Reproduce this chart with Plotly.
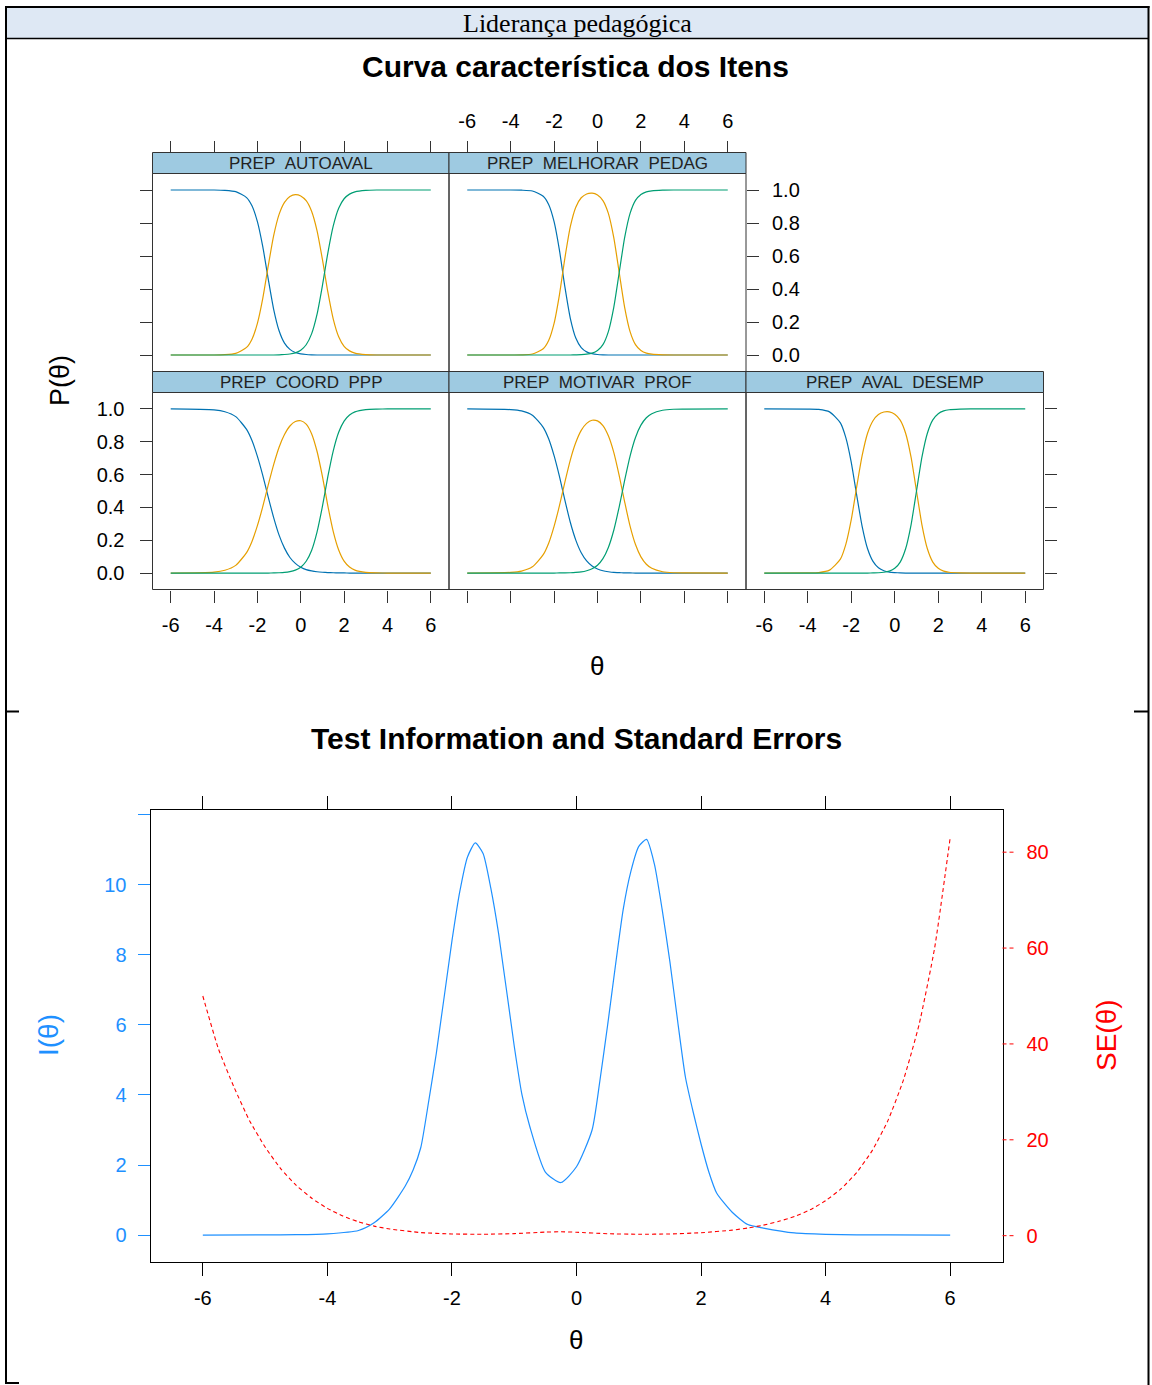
import plotly.graph_objects as go

# ---------------- data ----------------
item_names = ["PREP  AUTOAVAL", "PREP  MELHORAR  PEDAG", "PREP  COORD  PPP",
              "PREP  MOTIVAR  PROF", "PREP  AVAL  DESEMP"]

theta_icc = [-6, -4, -3.5, -3, -2.5, -2.25, -2, -1.75, -1.5, -1.25, -1, -0.75, -0.5, -0.25,
             0, 0.25, 0.5, 0.75, 1, 1.25, 1.5, 1.75, 2, 2.25, 2.5, 3, 3.5, 4, 6]

autoaval_c1 = [1, 1, .998, .990, .954, .904, .808, .655, .460, .277, .147, .072, .034, .015,
               .007, .003, .001, 0, 0, 0, 0, 0, 0, 0, 0, 0, 0, 0, 0]
autoaval_c2 = [0, 0, .002, .010, .046, .096, .192, .345, .540, .723, .852, .925, .960, .972,
               .964, .935, .871, .754, .579, .382, .218, .111, .053, .025, .011, .002, 0, 0, 0]
autoaval_c3 = [0, 0, 0, 0, 0, 0, 0, 0, 0, 0, .001, .003, .006, .013,
               .029, .062, .128, .246, .421, .618, .782, .889, .947, .975, .989, .998, 1, 1, 1]

melhorar_c1 = [1, 1, .999, .994, .962, .912, .808, .632, .411, .221, .103, .045, .019, .008,
               .003, .001, 0, 0, 0, 0, 0, 0, 0, 0, 0, 0, 0, 0, 0]
melhorar_c2 = [0, 0, .001, .006, .038, .088, .192, .368, .589, .779, .896, .953, .976, .981,
               .970, .936, .858, .711, .5, .289, .142, .063, .027, .011, .005, .001, 0, 0, 0]
melhorar_c3 = [0, 0, 0, 0, 0, 0, 0, 0, 0, 0, .001, .002, .005, .011,
               .027, .063, .142, .289, .5, .711, .858, .937, .973, .989, .995, .999, 1, 1, 1]

coord_c1 = [1, .994, .983, .953, .875, .807, .711, .594, .463, .338, .231, .152, .095, .059,
            .036, .021, .013, .008, .005, .003, .002, .001, .001, 0, 0, 0, 0, 0, 0]
coord_c2 = [0, .006, .017, .047, .125, .193, .289, .406, .537, .661, .767, .844, .896, .923,
            .928, .907, .849, .742, .589, .410, .253, .141, .073, .037, .018, .004, .001, 0, 0]
coord_c3 = [0, 0, 0, 0, 0, 0, 0, 0, 0, .001, .002, .004, .009, .018,
            .036, .072, .138, .250, .406, .587, .745, .858, .926, .963, .982, .996, .999, 1, 1]

motivar_c1 = [1, .996, .988, .962, .888, .818, .715, .587, .443, .308, .201, .124, .074, .043,
              .025, .014, .008, .004, .003, .001, .001, 0, 0, 0, 0, 0, 0, 0, 0]
motivar_c2 = [0, .004, .012, .038, .112, .182, .285, .412, .556, .690, .795, .869, .912, .931,
              .927, .898, .836, .735, .593, .434, .286, .174, .099, .054, .029, .008, .002, .001, 0]
motivar_c3 = [0, 0, 0, 0, 0, 0, 0, .001, .001, .002, .004, .007, .014, .026,
              .048, .088, .156, .261, .404, .565, .713, .826, .901, .946, .971, .992, .998, .999, 1]

desemp_c1 = [1, .999, .997, .982, .915, .825, .675, .475, .285, .148, .071, .032, .014, .006,
             .003, .001, 0, 0, 0, 0, 0, 0, 0, 0, 0, 0, 0, 0, 0]
desemp_c2 = [0, .001, .003, .018, .085, .175, .325, .525, .715, .852, .928, .966, .981, .982,
             .968, .932, .852, .706, .5, .294, .148, .067, .029, .012, .005, .001, 0, 0, 0]
desemp_c3 = [0, 0, 0, 0, 0, 0, 0, 0, 0, 0, .001, .002, .005, .012,
             .029, .067, .148, .294, .5, .706, .852, .933, .971, .988, .995, .999, 1, 1, 1]

theta_info = [-6, -5, -4.5, -4, -3.5, -3.25, -3, -2.75, -2.625, -2.5, -2.375, -2.25, -2,
              -1.875, -1.75, -1.625, -1.5, -1.375, -1.25, -1, -0.875, -0.75, -0.5, -0.25, 0,
              0.25, 0.375, 0.5, 0.75, 0.875, 1, 1.125, 1.25, 1.375, 1.5, 1.625, 1.75, 1.875,
              2, 2.125, 2.25, 2.5, 2.75, 3, 3.5, 4, 4.5, 5, 6]
test_info = [0.0004, 0.003, 0.01, 0.035, 0.13, 0.35, 0.75, 1.4, 1.85, 2.5, 3.8, 5.2, 8.4,
             9.8, 10.8, 11.2, 10.9, 9.9, 8.6, 5.4, 4.0, 3.1, 1.8, 1.5, 1.95,
             3.0, 4.4, 6.0, 9.3, 10.4, 11.1, 11.3, 10.6, 9.3, 7.8, 6.1, 4.5, 3.5,
             2.6, 1.8, 1.2, 0.65, 0.3, 0.2, 0.06, 0.02, 0.006, 0.002, 0.0001]

theta_se = [-6, -5.75, -5.5, -5.25, -5, -4.75, -4.5, -4.25, -4, -3.75, -3.5, -3.25, -3, -2.5,
            -2, -1.5, -1, -0.5, -0.25, 0, 0.5, 1, 1.5, 2, 2.5, 2.75, 3, 3.25, 3.5, 3.75, 4,
            4.25, 4.5, 4.75, 5, 5.25, 5.5, 5.75, 6]
std_err = [50, 39, 31, 24, 18.5, 14, 10.5, 7.8, 5.7, 4.1, 2.9, 2.0, 1.4, 0.65,
           0.36, 0.30, 0.43, 0.75, 0.82, 0.72, 0.41, 0.30, 0.36, 0.62, 1.15, 1.6, 2.2, 3.0, 4.0, 5.4, 7.3,
           9.8, 13.2, 17.8, 24, 32.5, 44, 60, 83]

x_ticks = [-6, -4, -2, 0, 2, 4, 6]
x_ticktext = ["-6", "-4", "-2", "0", "2", "4", "6"]
p_ticks = [0, 0.2, 0.4, 0.6, 0.8, 1.0]
p_ticktext = ["0.0", "0.2", "0.4", "0.6", "0.8", "1.0"]
info_ticks = [0, 2, 4, 6, 8, 10, 12]
info_ticktext = ["0", "2", "4", "6", "8", "10", ""]
se_ticks = [0, 20, 40, 60, 80]
se_ticktext = ["0", "20", "40", "60", "80"]

# ---------------- layout helpers ----------------
W, H = 1152, 1385
def px(x): return x / W
def py(y): return 1 - y / H

SANS = "Liberation Sans, Arial, sans-serif"
SERIF = "Liberation Serif, Times New Roman, serif"
C_BLUE, C_ORANGE, C_GREEN = "#0072B2", "#E69F00", "#009E73"
FRAME = "#333333"

cols = {1: (152.5, 449), 2: (449, 746), 3: (746, 1043.5)}
rows = {1: (173.5, 371.5), 2: (392.5, 589.5)}
strips = {1: (152.5, 173.5), 2: (371.5, 392.5)}

panels = [
    (item_names[0], 1, 1, autoaval_c1, autoaval_c2, autoaval_c3),
    (item_names[1], 1, 2, melhorar_c1, melhorar_c2, melhorar_c3),
    (item_names[2], 2, 1, coord_c1, coord_c2, coord_c3),
    (item_names[3], 2, 2, motivar_c1, motivar_c2, motivar_c3),
    (item_names[4], 2, 3, desemp_c1, desemp_c2, desemp_c3),
]

fig = go.Figure()
layout = dict(width=W, height=H, margin=dict(l=0, r=0, t=0, b=0), autosize=False,
              paper_bgcolor="white", plot_bgcolor="rgba(0,0,0,0)", showlegend=False)
shapes, annotations = [], []

TICK_SIZE = 20
tickfont = dict(family=SANS, size=TICK_SIZE, color="black")

for i, (name, r, c, c1, c2, c3) in enumerate(panels, start=1):
    xs = "" if i == 1 else str(i)
    for vals, col in ((c1, C_BLUE), (c2, C_ORANGE), (c3, C_GREEN)):
        fig.add_trace(go.Scatter(x=theta_icc, y=vals, mode="lines",
                                 line=dict(color=col, width=1.2, shape="spline", smoothing=0.6),
                                 xaxis="x" + xs, yaxis="y" + xs, hoverinfo="skip"))
    x0, x1 = cols[c]
    y0, y1 = rows[r]
    s0, s1 = strips[r]
    xa = dict(domain=[px(x0), px(x1)], range=[-6.84, 6.84], showgrid=False, zeroline=False,
              showline=False, tickvals=x_ticks, ticktext=x_ticktext, tickfont=tickfont,
              ticklen=12, tickcolor=FRAME, tickwidth=1)
    ya = dict(domain=[py(y1), py(y0)], range=[-0.1, 1.1], showgrid=False, zeroline=False,
              showline=False, tickvals=p_ticks, ticktext=p_ticktext, tickfont=tickfont,
              ticklen=12, tickcolor=FRAME, tickwidth=1, anchor="x" + xs)
    if r == 1:
        xa.update(side="top", anchor="free", position=py(s0), ticks="outside",
                  showticklabels=(c == 2), ticklabelstandoff=5)
    else:
        xa.update(side="bottom", anchor="y" + xs, ticks="outside",
                  showticklabels=(c != 2), ticklabelstandoff=5)
    if (r, c) == (1, 1):
        ya.update(side="left", ticks="outside", showticklabels=False)
    elif (r, c) == (1, 2):
        ya.update(side="right", ticks="outside", showticklabels=True, ticklabelstandoff=9)
    elif (r, c) == (2, 1):
        ya.update(side="left", ticks="outside", showticklabels=True, ticklabelstandoff=11)
    elif (r, c) == (2, 3):
        ya.update(side="right", ticks="outside", showticklabels=False)
    else:
        ya.update(ticks="", showticklabels=False)
    layout["xaxis" + xs] = xa
    layout["yaxis" + xs] = ya
    # strip
    shapes.append(dict(type="rect", xref="paper", yref="paper", x0=px(x0), x1=px(x1),
                       y0=py(s1), y1=py(s0), fillcolor="#9ECAE1",
                       line=dict(color=FRAME, width=1), layer="below"))
    # panel frame
    shapes.append(dict(type="rect", xref="paper", yref="paper", x0=px(x0), x1=px(x1),
                       y0=py(y1), y1=py(y0), line=dict(color=FRAME, width=1)))
    annotations.append(dict(text=name.replace(" ", "\u00a0"), xref="paper", yref="paper",
                            x=px((x0 + x1) / 2), y=py((s0 + s1) / 2 + 0.5), showarrow=False,
                            xanchor="center", yanchor="middle",
                            font=dict(family=SANS, size=17, color="#222222")))

# ---- lower plot ----
fig.add_trace(go.Scatter(x=theta_info, y=test_info, mode="lines",
                         line=dict(color="#1E90FF", width=1.2, shape="spline", smoothing=0.6),
                         xaxis="x6", yaxis="y6", hoverinfo="skip"))
fig.add_trace(go.Scatter(x=theta_se, y=std_err, mode="lines",
                         line=dict(color="#FF0000", width=1.1, dash="4px,3px",
                                   shape="spline", smoothing=0.5),
                         xaxis="x6", yaxis="y7", hoverinfo="skip"))

LX0, LX1, LY0, LY1 = 150.5, 1002.5, 810, 1262
layout["xaxis6"] = dict(domain=[px(LX0), px(LX1)], range=[-6.84, 6.84], anchor="y6",
                        showgrid=False, zeroline=False, showline=True, linecolor="black",
                        linewidth=1, mirror="ticks", ticks="outside", ticklen=13,
                        tickcolor="black", tickvals=x_ticks, ticktext=x_ticktext,
                        tickfont=tickfont, ticklabelstandoff=5)
layout["yaxis6"] = dict(domain=[py(LY1), py(LY0)], range=[-0.77, 12.14], anchor="x6",
                        showgrid=False, zeroline=False, showline=True, linecolor="black",
                        ticks="outside", ticklen=12, tickcolor="#1E90FF",
                        tickvals=info_ticks, ticktext=info_ticktext,
                        tickfont=dict(family=SANS, size=TICK_SIZE, color="#1E90FF"),
                        ticklabelstandoff=7)
layout["yaxis7"] = dict(overlaying="y6", side="right", anchor="x6", range=[-5.49, 88.8],
                        showgrid=False, zeroline=False, showline=True, linecolor="black",
                        ticks="outside", ticklen=13, tickcolor="rgba(0,0,0,0)",
                        tickvals=se_ticks, ticktext=se_ticktext,
                        tickfont=dict(family=SANS, size=TICK_SIZE, color="#FF0000"),
                        ticklabelstandoff=6)
for v in se_ticks:
    shapes.append(dict(type="line", xref="paper", yref="y7", x0=px(LX1), x1=px(LX1 + 13),
                       y0=v, y1=v, line=dict(color="#FF0000", width=1, dash="4px,3px")))

# ---- document table frame ----
shapes.insert(0, dict(type="rect", xref="paper", yref="paper", x0=px(6), x1=px(1148.5),
                      y0=py(38), y1=py(7), fillcolor="#DEE8F4", line=dict(width=0),
                      layer="below"))
def hline(y, xa, xb, w=2):
    shapes.append(dict(type="line", xref="paper", yref="paper", x0=px(xa), x1=px(xb),
                       y0=py(y), y1=py(y), line=dict(color="black", width=w)))
def vline(x, ya, yb, w=2):
    shapes.append(dict(type="line", xref="paper", yref="paper", x0=px(x), x1=px(x),
                       y0=py(ya), y1=py(yb), line=dict(color="black", width=w)))
hline(7, 5, 1149.5)
hline(38.5, 6, 1148.5, 1.5)
vline(6, 6, 1384)
vline(1148.5, 6, 1385)
hline(711.5, 6, 19)
hline(711.5, 1134, 1148.5)
hline(1383, 6, 19)

def ann(text, x, y, size, color="black", family=SANS, angle=0):
    annotations.append(dict(text=text, xref="paper", yref="paper", x=px(x), y=py(y),
                            showarrow=False, xanchor="center", yanchor="middle",
                            textangle=angle, font=dict(family=family, size=size, color=color)))

ann("Liderança pedagógica", 577, 23, 26, family=SERIF)
ann("<b>Curva característica dos Itens</b>", 575, 66, 30)
ann("θ", 597, 666, 26)
ann("P(θ)", 60, 381, 27, angle=-90)
ann("<b>Test Information and Standard Errors</b>", 576, 738, 30)
ann("I(θ)", 48, 1035, 28, color="#1E90FF", angle=-90)
ann("SE(θ)", 1106, 1035, 28, color="#FF0000", angle=-90)
ann("θ", 576, 1340, 26)

layout["shapes"] = shapes
layout["annotations"] = annotations
fig.update_layout(**layout)
fig.write_html("out.html", config={"displayModeBar": False},
               post_script="document.body.style.margin='0px';")
